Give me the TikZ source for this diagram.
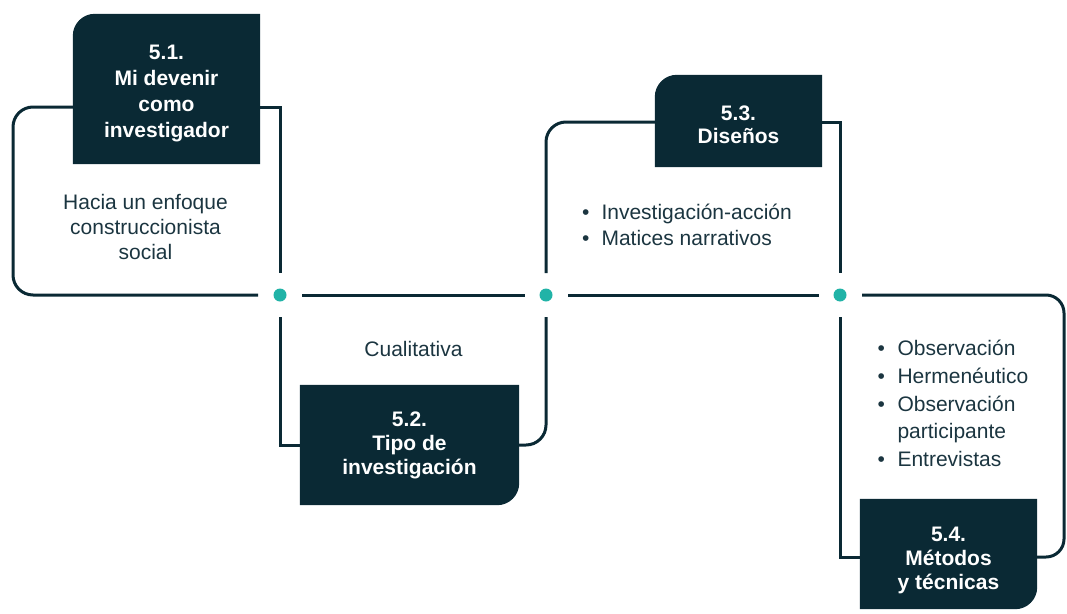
\documentclass[tikz,border=0pt]{standalone}
\usepackage{fontspec}
\setmainfont{Liberation Sans}
\usetikzlibrary{backgrounds}
\definecolor{ink}{HTML}{0A2934}
\definecolor{txt}{HTML}{1B3540}
\definecolor{accent}{HTML}{21B3A7}

\tikzset{
  stage/.style={inner sep=0pt},
  title/.style={inner sep=0pt, text=white, align=center,
    font=\fontsize{21}{24}\selectfont\bfseries},
  track/.style={draw=ink, line width=3pt},
  joint/.style={circle, fill=accent, minimum size=13pt, inner sep=0pt},
  note/.style={text=txt, inner sep=0pt, align=center,
    font=\fontsize{21}{25}\selectfont},
}

% fill of a stage box with the top-left corner rounded
\newcommand{\tlfill}[1]{%
  \fill[ink] (#1.south west) -- ([yshift=-22pt]#1.north west)
    arc[start angle=180, end angle=90, radius=22pt]
    -- (#1.north east) -- (#1.south east) -- cycle;}
% fill of a stage box with the bottom-right corner rounded
\newcommand{\brfill}[1]{%
  \fill[ink] (#1.north west) -- (#1.north east) -- ([yshift=22pt]#1.south east)
    arc[start angle=0, end angle=-90, radius=22pt]
    -- (#1.south west) -- cycle;}

\begin{document}
\begin{tikzpicture}[x=1pt, y=-1pt]
  \useasboundingbox (0,0) rectangle (1067,613);

  % stage boxes
  \node[stage, minimum width=187pt, minimum height=150pt] (b1) at (166.5,89) {};
  \node[stage, minimum width=219pt, minimum height=120pt] (b2) at (409.5,445) {};
  \node[stage, minimum width=167pt, minimum height=92pt]  (b3) at (738.5,121) {};
  \node[stage, minimum width=177pt, minimum height=110pt] (b4) at (948.5,554) {};

  \begin{scope}[on background layer]
    \tlfill{b1}
    \brfill{b2}
    \tlfill{b3}
    \brfill{b4}
  \end{scope}

  % stage titles
  \node[title, font=\fontsize{21}{26}\selectfont\bfseries] (h1) at ([yshift=-4pt]b1.center)
    {5.1.\\Mi devenir\\como\\investigador};
  \node[title] (h2) at (b2.center) {5.2.\\Tipo de\\investigación};
  \node[title, font=\fontsize{21}{23}\selectfont\bfseries] (h3) at ([yshift=-3.5pt]b3.center)
    {5.3.\\Diseños};
  \node[title] (h4) at ([yshift=-6.5pt]b4.center) {5.4.\\Métodos\\y técnicas};

  % junction dots on the main line
  \node[joint] (d1) at (280,295) {};
  \node[joint] (d2) at (546,295) {};
  \node[joint] (d3) at (840,295) {};

  % turning points of the tracks
  \coordinate (c1) at (13,107);
  \coordinate (c2) at (13,295);
  \coordinate (c5) at (1064,295);
  \coordinate (c6) at (1064,557);
  \coordinate (c7) at (280,445);
  \coordinate (c8) at (546,122);

  % 5.1 loop
  \draw[track, rounded corners=20pt, shorten >=22pt] (b1.west |- c1) -- (c1) -- (c2) -- (d1.center);
  \draw[track, shorten >=22pt] (b1.east |- c1) -- (d1 |- c1) -- (d1.center);

  % main line
  \draw[track, shorten <=22pt, shorten >=21pt] (d1.center) -- (d2.center);
  \draw[track, shorten <=22pt, shorten >=21pt] (d2.center) -- (d3.center);

  % 5.2 loop
  \draw[track, shorten <=22pt] (d1.center) -- (c7) -- (b2.west |- c7);
  \draw[track, rounded corners=20pt, shorten >=22pt] (b2.east |- c7) -- (d2 |- c7) -- (d2.center);

  % 5.3 loop
  \draw[track, rounded corners=20pt, shorten <=22pt] (d2.center) -- (c8) -- (b3.west |- c8);
  \draw[track, shorten >=22pt] (b3.east |- c8) -- (d3 |- c8) -- (d3.center);

  % 5.4 loop
  \draw[track, shorten <=22pt] (d3.center) -- (d3 |- c6) -- (b4.west |- c6);
  \draw[track, rounded corners=18pt, shorten <=22pt] (d3.center) -- (c5) -- (c6) -- (b4.east |- c6);

  % descriptions
  \node[note] (t1) at (145.5,227) {Hacia un enfoque\\construccionista\\social};
  \node[note] (t2) at (413.5,349) {Cualitativa};
  \node[note, anchor=west, font=\fontsize{21}{26.5}\selectfont] (t3) at (582,227)
    {\begin{tabular}{@{}l@{\hspace{12pt}}l@{}}
      \textbullet & Investigación-acción\\
      \textbullet & Matices narrativos
    \end{tabular}};
  \node[note, anchor=west, font=\fontsize{21}{27.7}\selectfont] (t4) at (877.5,405.5)
    {\begin{tabular}{@{}l@{\hspace{12.5pt}}l@{}}
      \textbullet & Observación\\
      \textbullet & Hermenéutico\\
      \textbullet & Observación\\
                  & participante\\
      \textbullet & Entrevistas
    \end{tabular}};
\end{tikzpicture}
\end{document}
